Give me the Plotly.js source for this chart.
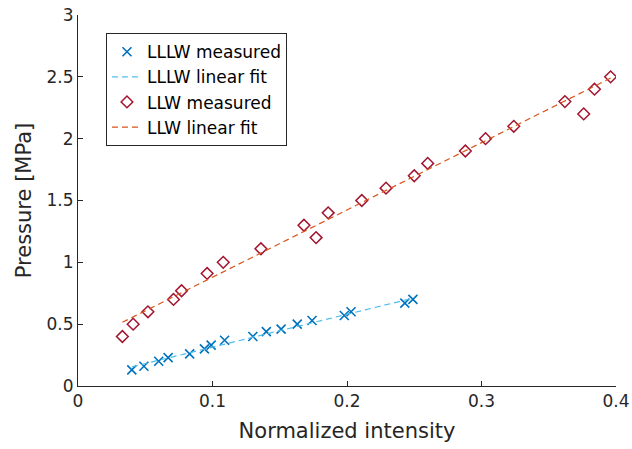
<!DOCTYPE html>
<html>
<head>
<meta charset="utf-8">
<script src="https://cdn.plot.ly/plotly-3.0.1.min.js"></script>
<style>html,body{margin:0;padding:0;background:#fff;}#chart{width:632px;height:449px;}</style>
</head>
<body>
<div id="chart"></div>
<script>
// LLLW measured points
var lllwX = [0.040, 0.049, 0.060, 0.067, 0.083, 0.094, 0.099, 0.109, 0.130, 0.140, 0.151, 0.163, 0.174, 0.198, 0.203, 0.243, 0.249];
var lllwY = [0.13, 0.16, 0.20, 0.23, 0.26, 0.30, 0.33, 0.37, 0.40, 0.44, 0.46, 0.50, 0.53, 0.57, 0.60, 0.67, 0.70];
// LLLW linear fit endpoints
var lllwFitX = [0.040, 0.249];
var lllwFitY = [0.155, 0.71];
// LLW measured points
var llwX = [0.033, 0.041, 0.052, 0.071, 0.077, 0.096, 0.108, 0.136, 0.168, 0.177, 0.186, 0.211, 0.229, 0.250, 0.260, 0.288, 0.303, 0.324, 0.362, 0.376, 0.384, 0.396];
var llwY = [0.40, 0.50, 0.60, 0.70, 0.77, 0.91, 1.00, 1.11, 1.30, 1.20, 1.40, 1.50, 1.60, 1.70, 1.80, 1.90, 2.00, 2.10, 2.30, 2.20, 2.40, 2.50];
// LLW linear fit endpoints
var llwFitX = [0.033, 0.396];
var llwFitY = [0.515, 2.49];
// labels
var seriesNames = ["LLLW measured", "LLLW linear fit", "LLW measured", "LLW linear fit"];
var xTicks = [0, 0.1, 0.2, 0.3, 0.4];
var yTicks = [0, 0.5, 1, 1.5, 2, 2.5, 3];

var textColor = "#262626";
var font = "DejaVu Sans, sans-serif";

var traces = [
  {x: lllwX, y: lllwY, name: seriesNames[0], type: "scatter", mode: "markers",
   marker: {symbol: "x-thin-open", size: 9, color: "#0072BD", line: {color: "#0072BD", width: 1.6}}},
  {x: lllwFitX, y: lllwFitY, name: seriesNames[1], type: "scatter", mode: "lines",
   line: {color: "#4DBEEE", width: 1.2, dash: "6px,4px"}},
  {x: llwX, y: llwY, name: seriesNames[2], type: "scatter", mode: "markers",
   marker: {symbol: "diamond-open", size: 9, color: "#A2142F", line: {color: "#A2142F", width: 1.5}}},
  {x: llwFitX, y: llwFitY, name: seriesNames[3], type: "scatter", mode: "lines",
   line: {color: "#D95319", width: 1.2, dash: "6px,4px"}}
];

var layout = {
  width: 632, height: 449,
  margin: {l: 78, r: 16, t: 15, b: 63, pad: 0},
  paper_bgcolor: "#ffffff", plot_bgcolor: "#ffffff",
  font: {family: font, size: 17, color: textColor},
  showlegend: true,
  legend: {x: 0.052, y: 0.951, xanchor: "left", yanchor: "top",
           bgcolor: "#ffffff", bordercolor: textColor, borderwidth: 1,
           font: {family: font, size: 17, color: "#000000"}, itemwidth: 30, tracegroupgap: 0},
  xaxis: {range: [0, 0.4], tickvals: xTicks, ticktext: xTicks.map(String),
          ticks: "inside", ticklen: 5, tickcolor: textColor, tickwidth: 1,
          showline: true, linecolor: textColor, linewidth: 1, mirror: false,
          showgrid: false, zeroline: false,
          tickfont: {family: font, size: 17, color: textColor},
          title: {text: "Normalized intensity", font: {family: font, size: 21, color: textColor}, standoff: 12}},
  yaxis: {range: [0, 3], tickvals: yTicks, ticktext: yTicks.map(String),
          ticks: "inside", ticklen: 5, tickcolor: textColor, tickwidth: 1,
          showline: true, linecolor: textColor, linewidth: 1, mirror: false,
          showgrid: false, zeroline: false,
          tickfont: {family: font, size: 17, color: textColor},
          title: {text: "Pressure [MPa]", font: {family: font, size: 21, color: textColor}, standoff: 9}}
};

Plotly.newPlot("chart", traces, layout, {displayModeBar: false, staticPlot: true});
</script>
</body>
</html>
